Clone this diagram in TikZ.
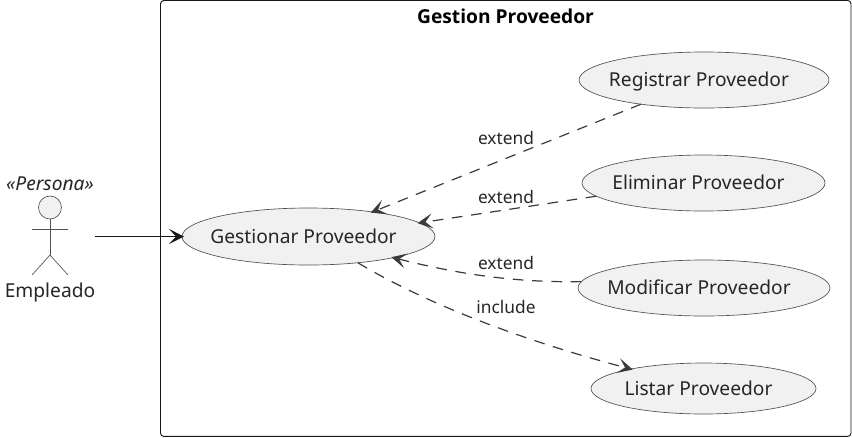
\documentclass[tikz,border=0pt]{standalone}
\usepackage{fontspec}
\setmainfont{Noto Sans}
\newfontfamily\titlefont{Open Sans}[BoldFont={Open Sans Bold}]
\usetikzlibrary{shapes.geometric,arrows.meta}
\definecolor{ufill}{HTML}{F1F1F1}
\definecolor{uline}{HTML}{181818}
\tikzset{
 usecase/.style={ellipse,draw=uline!75,fill=ufill,line width=0.5pt,inner sep=0pt,outer sep=0pt,font=\fontsize{14.4pt}{16pt}\selectfont,text=black!85},
 conn/.style={draw=uline,line width=0.9pt,shorten >=-1.5pt,-{Stealth[length=11.25pt,width=11.25pt,inset=5.25pt]}},
 dep/.style={conn,draw=uline!85,dash pattern=on 8pt off 6.5pt},
 lbl/.style={font=\fontsize{13pt}{15pt}\selectfont,text=black!85,inner sep=0pt},
 actorline/.style={draw=uline!75,line width=0.5pt}
}
\newcommand{\uctext}[1]{\makebox[0pt]{\smash{\raisebox{-5.1pt}{#1}}\kern 7.5pt}}
\begin{document}
\begin{tikzpicture}[x=0.75pt,y=-0.75pt]
\useasboundingbox (0,0) rectangle (852,437);
\draw[uline,line width=0.7pt,rounded corners=2.5pt] (160.5,0.5) rectangle (851,436.4);
\node[font=\titlefont\bfseries\fontsize{14.4pt}{16pt}\selectfont,inner sep=0pt] (title) at (505.5,16) {Gestion Proveedor};
\node[usecase,minimum width=0.75*253pt,minimum height=0.75*57pt] (ges) at (308.5,236.5) {\uctext{Gestionar Proveedor}};
\node[usecase,minimum width=0.75*250pt,minimum height=0.75*56pt] (reg) at (704,80) {\uctext{Registrar Proveedor}};
\node[usecase,minimum width=0.75*243pt,minimum height=0.75*56pt] (eli) at (703.5,183) {\uctext{Eliminar Proveedor}};
\node[usecase,minimum width=0.75*252pt,minimum height=0.75*56pt] (mod) at (704,288) {\uctext{Modificar Proveedor}};
\node[usecase,minimum width=0.75*225pt,minimum height=0.75*51pt] (lis) at (703.5,388.5) {\uctext{Listar Proveedor}};
% actor
\node[circle,draw=uline!75,fill=ufill,line width=0.5pt,minimum size=17.25pt,inner sep=0pt,outer sep=0pt] (head) at (50,207.5) {};
\coordinate (hip) at (50,255);
\coordinate (armL) at (32,229);
\coordinate (armR) at (68,229);
\coordinate (legL) at (32,275);
\coordinate (legR) at (68,275);
\draw[actorline] (head.south) -- (hip);
\draw[actorline] (armL) -- (armR);
\draw[actorline] (legL) -- (hip) -- (legR);
\node[font=\itshape\fontsize{14.4pt}{16pt}\selectfont,inner sep=0pt,text=black!85] (stereo) at (50,184) {«Persona»};
\node[font=\fontsize{14.4pt}{16pt}\selectfont,inner sep=0pt,text=black!85] (emp) at (50,292) {Empleado};
\coordinate (empOut) at (95,236.5);
\draw[conn] (empOut) -- (ges.west);
\draw[dep] (reg.201.2) -- (ges.21.1);
\draw[dep] (eli.187.8) -- (ges.7.7);
\draw[dep] (mod.177.7) .. controls (510,283) and (450,272) .. (ges.-14.8);
\draw[dep] (ges.-28.2) .. controls (420,300) and (510,337) .. (lis.165.1);
\node[lbl] (l1) at (506,138) {extend};
\node[lbl] (l2) at (506,197) {extend};
\node[lbl] (l3) at (506,263) {extend};
\node[lbl] (l4) at (506,307) {include};
\end{tikzpicture}
\end{document}
